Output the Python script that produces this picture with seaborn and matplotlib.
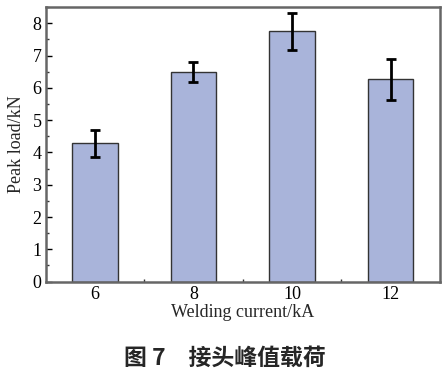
import matplotlib
matplotlib.use("Agg")
import matplotlib.pyplot as plt
from matplotlib.ticker import MultipleLocator, FixedLocator
import seaborn as sns
import pandas as pd

currents = ["6", "8", "10", "12"]
peak_load = [4.28, 6.50, 7.75, 6.27]
errors = [0.42, 0.31, 0.57, 0.63]

sns.set_theme(style="white")
plt.rcParams["font.family"] = ["Liberation Serif", "DejaVu Serif"]

df = pd.DataFrame({"current": currents, "load": peak_load})

fig = plt.figure(figsize=(4.47, 3.77), dpi=100)
ax = fig.add_axes([0.102, 0.253, 0.882, 0.728])

sns.barplot(data=df, x="current", y="load", order=currents, color="#A9B4DA",
            saturation=1, width=0.46, edgecolor="#333333", linewidth=1.0,
            errorbar=None, ax=ax)
ax.errorbar(range(len(currents)), peak_load, yerr=errors, fmt="none",
            ecolor="black", elinewidth=2, capsize=3.5, capthick=2)

ax.set_xlim(-0.5, 3.5)
ax.set_ylim(0, 8.5)
ax.yaxis.set_major_locator(MultipleLocator(1))
ax.yaxis.set_minor_locator(MultipleLocator(0.5))
ax.xaxis.set_minor_locator(FixedLocator([0.5, 1.5, 2.5]))
ax.tick_params(which="both", direction="in", color="#333333")
ax.tick_params(which="major", length=4, width=1, labelsize=13, colors="black", pad=3)
ax.tick_params(which="minor", length=2, width=1)
ax.tick_params(axis="both", which="both", bottom=True, left=True, top=False, right=False)
for s in ax.spines.values():
    s.set_color("#666666")
    s.set_linewidth(1.8)
    s.set_visible(True)

ax.set_xlabel("Welding current/kA", fontsize=13, labelpad=1)
ax.set_ylabel("Peak load/kN", fontsize=13, labelpad=5)

fig.text(0.503, 0.05, "图 7\u2003接头峰值载荷", ha="center", va="center",
         fontsize=16.5, fontweight="bold",
         family=["Noto Sans CJK SC", "DejaVu Sans"])

fig.savefig("out.png", dpi=100)
